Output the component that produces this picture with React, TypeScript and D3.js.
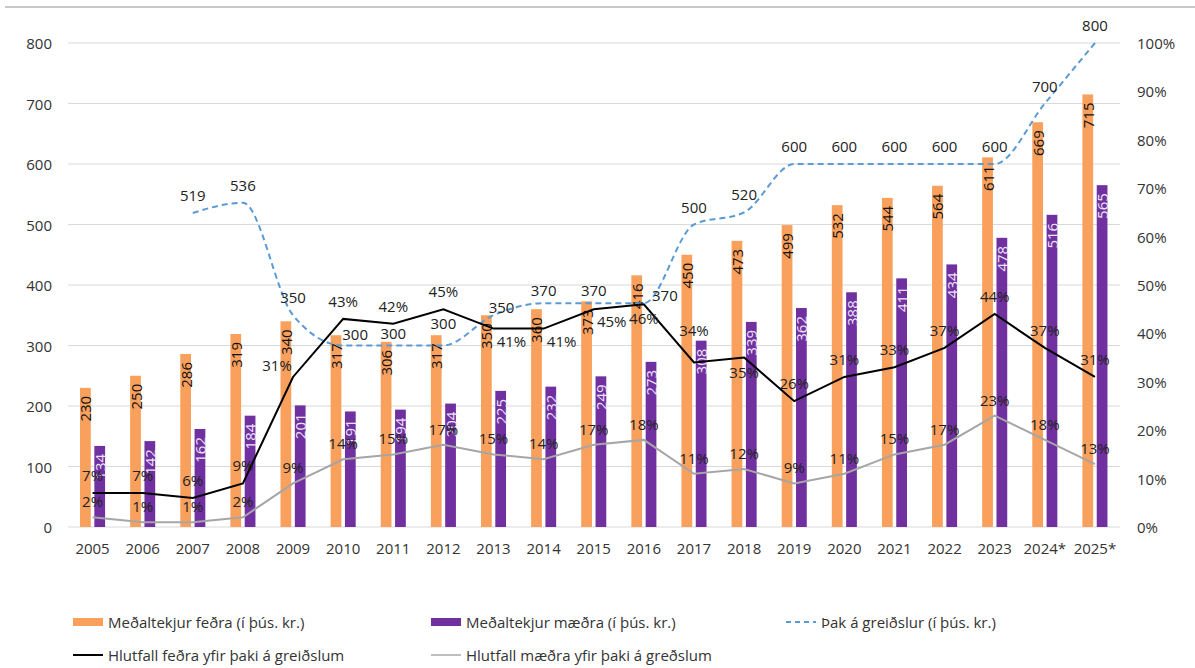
import * as d3 from "d3";

// Tekjur feðra og mæðra, þak á greiðslur og hlutfall yfir þaki
const years = ["2005", "2006", "2007", "2008", "2009", "2010", "2011", "2012", "2013", "2014", "2015", "2016", "2017", "2018", "2019", "2020", "2021", "2022", "2023", "2024*", "2025*"];
const fathersIncome = [230, 250, 286, 319, 340, 317, 306, 317, 350, 360, 373, 416, 450, 473, 499, 532, 544, 564, 611, 669, 715];
const mothersIncome = [134, 142, 162, 184, 201, 191, 194, 204, 225, 232, 249, 273, 308, 339, 362, 388, 411, 434, 478, 516, 565];
const paymentCap = [null, null, 519, 536, 350, 300, 300, 300, 350, 370, 370, 370, 500, 520, 600, 600, 600, 600, 600, 700, 800];
const fathersShare = [0.07, 0.07, 0.06, 0.09, 0.31, 0.43, 0.42, 0.45, 0.41, 0.41, 0.45, 0.46, 0.34, 0.35, 0.26, 0.31, 0.33, 0.37, 0.44, 0.37, 0.31];
const mothersShare = [0.02, 0.01, 0.01, 0.02, 0.09, 0.14, 0.15, 0.17, 0.15, 0.14, 0.17, 0.18, 0.11, 0.12, 0.09, 0.11, 0.15, 0.17, 0.23, 0.18, 0.13];
const leftTicks = [0, 100, 200, 300, 400, 500, 600, 700, 800];
const rightTicks = [0, 0.1, 0.2, 0.3, 0.4, 0.5, 0.6, 0.7, 0.8, 0.9, 1];

const legendLabels = {
  fathers: "Meðaltekjur feðra (í þús. kr.)",
  mothers: "Meðaltekjur mæðra (í þús. kr.)",
  cap: "Þak á greiðslur (í þús. kr.)",
  fShare: "Hlutfall feðra yfir þaki á greiðslum",
  mShare: "Hlutfall mæðra yfir þaki á greðslum",
};

// where each data label sits (Excel had some of them moved by hand)
const fatherLabelPlace = ["above", "above", "above", "above", "left", "above", "above", "above", "belowRight", "belowRight", "belowRight", "below", "high", "below", "above", "above", "above", "above", "above", "above", "above"];
const capLabelPlace = ["", "", "above", "above", "above", "nearRight", "near", "far", "tight", "near", "near", "right", "above", "above", "above", "above", "above", "above", "above", "above", "above"];

const placeOffset: Record<string, [number, number]> = {
  above: [0, -18],
  high: [0, -32],
  far: [0, -23],
  near: [0, -13],
  nearRight: [12, -12],
  tight: [8, -8],
  right: [21, -8],
  below: [0, 14],
  belowRight: [18, 12],
  left: [-16, -12],
};

const W = 1195;
const H = 668;
const orange = "#F9A05C";
const purple = "#7030A0";
const blue = "#5B9BD5";
const font = "'Open Sans', sans-serif";

const App = () => {
  const x0 = d3.scaleBand<string>().domain(years).range([67.5, 1120]).paddingInner(0.5).paddingOuter(0.25);
  const x1 = d3.scaleBand<string>().domain(["f", "m"]).range([0, x0.bandwidth()]).paddingInner(0.25);
  const y = d3.scaleLinear().domain([0, 800]).range([527, 43]);
  const yR = d3.scaleLinear().domain([0, 1]).range([527, 43]);
  const cx = (i: number) => (x0(years[i]) as number) + x0.bandwidth() / 2;

  const capLine = d3
    .line<number | null>()
    .defined((d) => d != null)
    .x((_, i) => cx(i))
    .y((d) => y(d as number))
    .curve(d3.curveMonotoneX);
  const shareLine = d3
    .line<number>()
    .x((_, i) => cx(i))
    .y((d) => yR(d));

  const pct = d3.format(".0%");

  return (
    <div style={{ position: "fixed", left: 0, top: 0 }}>
      <svg width={W} height={H} style={{ display: "block", background: "#fff" }}>
        <line x1={5} x2={W} y1={7} y2={7} stroke="#c8c8c8" strokeWidth={2} />

        {/* gridlines and axes */}
        {leftTicks.map((t) => (
          <g key={t}>
            <line x1={68} x2={1120} y1={y(t)} y2={y(t)} stroke="#d9d9d9" strokeWidth={1.2} />
            <text x={52} y={y(t)} textAnchor="end" dominantBaseline="central" fontFamily={font} fontSize={15} fill="#333">
              {t}
            </text>
          </g>
        ))}
        {rightTicks.map((t) => (
          <text key={t} x={1137} y={yR(t)} dominantBaseline="central" fontFamily={font} fontSize={15} fill="#333">
            {pct(t)}
          </text>
        ))}
        {years.map((yr) => (
          <text key={yr} x={(x0(yr) as number) + x0.bandwidth() / 2} y={548} textAnchor="middle" dominantBaseline="central" fontFamily={font} fontSize={15} fill="#333">
            {yr}
          </text>
        ))}

        {/* bars */}
        {years.map((yr, i) => {
          const bx = x0(yr) as number;
          const fx = bx + (x1("f") as number);
          const mx = bx + (x1("m") as number);
          const bw = x1.bandwidth();
          return (
            <g key={yr}>
              <rect x={fx} y={y(fathersIncome[i])} width={bw} height={y(0) - y(fathersIncome[i])} fill={orange} />
              <rect x={mx} y={y(mothersIncome[i])} width={bw} height={y(0) - y(mothersIncome[i])} fill={purple} />
              <text transform={`translate(${fx + bw / 2},${y(fathersIncome[i]) + 8}) rotate(-90)`} textAnchor="end" dominantBaseline="central" fontFamily={font} fontSize={15} fill="#111">
                {fathersIncome[i]}
              </text>
              <text transform={`translate(${mx + bw / 2},${y(mothersIncome[i]) + 8}) rotate(-90)`} textAnchor="end" dominantBaseline="central" fontFamily={font} fontSize={15} fill="#ece4f5">
                {mothersIncome[i]}
              </text>
            </g>
          );
        })}

        {/* lines */}
        <path d={capLine(paymentCap) as string} fill="none" stroke={blue} strokeWidth={2} strokeDasharray="6 4" />
        <path d={shareLine(mothersShare) as string} fill="none" stroke="#a6a6a6" strokeWidth={2} />
        <path d={shareLine(fathersShare) as string} fill="none" stroke="#000" strokeWidth={2} />

        {/* line labels */}
        {paymentCap.map((v, i) => {
          if (v == null) return null;
          const [dx, dy] = placeOffset[capLabelPlace[i]];
          return (
            <text key={"c" + i} x={cx(i) + dx} y={y(v) + dy} textAnchor="middle" dominantBaseline="central" fontFamily={font} fontSize={15} fill="#222">
              {v}
            </text>
          );
        })}
        {mothersShare.map((v, i) => (
          <text key={"m" + i} x={cx(i)} y={yR(v) - 16} textAnchor="middle" dominantBaseline="central" fontFamily={font} fontSize={15} fill="#222">
            {pct(v)}
          </text>
        ))}
        {fathersShare.map((v, i) => {
          const [dx, dy] = placeOffset[fatherLabelPlace[i]];
          return (
            <text key={"f" + i} x={cx(i) + dx} y={yR(v) + dy} textAnchor="middle" dominantBaseline="central" fontFamily={font} fontSize={15} fill="#222">
              {pct(v)}
            </text>
          );
        })}

        {/* legend */}
        <g fontFamily={font} fontSize={15} fill="#333">
          <rect x={73} y={618} width={30} height={8} fill={orange} />
          <text x={108} y={622} dominantBaseline="central">{legendLabels.fathers}</text>
          <rect x={431} y={618} width={30} height={8} fill={purple} />
          <text x={466} y={622} dominantBaseline="central">{legendLabels.mothers}</text>
          <line x1={786} x2={816} y1={622} y2={622} stroke={blue} strokeWidth={2} strokeDasharray="5 4" />
          <text x={821} y={622} dominantBaseline="central">{legendLabels.cap}</text>
          <line x1={73} x2={103} y1={655} y2={655} stroke="#000" strokeWidth={2} />
          <text x={108} y={655} dominantBaseline="central">{legendLabels.fShare}</text>
          <line x1={431} x2={461} y1={655} y2={655} stroke="#bfbfbf" strokeWidth={2} />
          <text x={466} y={655} dominantBaseline="central">{legendLabels.mShare}</text>
        </g>
      </svg>
    </div>
  );
};

export default App;
